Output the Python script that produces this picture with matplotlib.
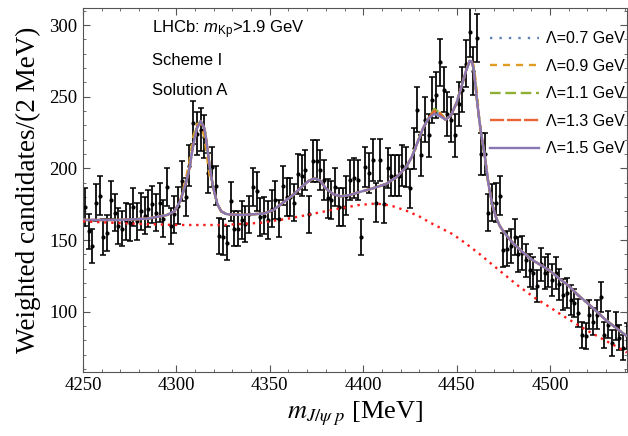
import numpy as np
import matplotlib
matplotlib.use('Agg')
import matplotlib.pyplot as plt
from matplotlib.ticker import MultipleLocator
from matplotlib.lines import Line2D

plt.rcParams['mathtext.fontset'] = 'custom'
plt.rcParams['mathtext.rm'] = 'Liberation Sans'
plt.rcParams['mathtext.it'] = 'Liberation Sans:italic'

# LHCb data, 2 MeV bins (bin centres 4251 ... 4541)
mass = np.arange(4251, 4543, 2)
counts = [173, 156, 146, 176, 181, 152, 155, 178, 169, 160, 158, 163, 162, 173, 163,
          170, 167, 172, 175, 169, 176, 165, 187, 160, 168,
          174, 191, 180, 202, 232, 224, 227, 222, 197, 201, 188, 153, 152, 148, 177,
          158, 158, 164, 161, 168, 187, 184, 166, 167, 164,
          172, 178, 165, 188, 180, 180, 176, 196, 195, 199, 168, 205, 205, 199, 192,
          179, 178, 187, 173, 173, 181, 192, 193, 192, 152,
          201, 197, 206, 176, 206, 175, 200, 195, 195, 195, 202, 201, 186, 214, 241,
          209, 234, 223, 248, 251, 274, 255, 238, 234, 223,
          245, 255, 273, 295, 268, 291, 210, 210, 169, 176, 176, 181, 143, 144, 146,
          152, 140, 141, 136, 129, 127, 118, 133, 127, 129,
          122, 127, 119, 112, 113, 108, 106, 99, 84, 83, 98, 93, 98, 110, 84,
          91, 78, 90, 82, 75, 83]
errors = [13, 12.5, 12, 13, 13.5, 12.5, 12.5, 13.5, 13, 12.5, 12.5, 13, 13, 13, 13,
          13, 13, 13, 13, 13, 13.5, 13, 13.5, 12.5, 13,
          13, 14, 13.5, 14, 15, 15, 15, 15, 14, 14, 13.5, 12.5, 12.5, 12, 13.5,
          12.5, 12.5, 13, 12.5, 13, 13.5, 13.5, 13, 13, 13,
          13, 13.5, 13, 13.5, 13.5, 13.5, 13, 14, 14, 14, 13, 14.5, 14.5, 14, 14,
          13.5, 13.5, 13.5, 13, 13, 13.5, 14, 14, 14, 12.5,
          14, 14, 14.5, 13.5, 14.5, 13, 14, 14, 14, 14, 14, 14, 13.5, 14.5, 15.5,
          14.5, 15.5, 15, 16, 16, 16.5, 16, 15.5, 15.5, 15,
          15.5, 16, 16.5, 17, 16.5, 17, 14.5, 14.5, 13, 13, 13.5, 13.5, 12, 12, 12,
          12.5, 12, 12, 11.5, 11.5, 11, 11, 11.5, 11, 11.5,
          11, 11, 11, 10.5, 10.5, 10.5, 10, 10, 9, 9, 10, 9.5, 10, 10.5, 9,
          9.5, 9, 9.5, 9, 8.5, 9]

# fit curve (Lambda = 1.5 GeV)
fit_m = [4250, 4270, 4285, 4295, 4299, 4302, 4305, 4307, 4309, 4311, 4313, 4315, 4316,
         4317, 4318, 4319, 4320, 4322, 4324, 4327, 4335, 4347, 4352, 4357, 4362, 4367,
         4371, 4374, 4377, 4380, 4384, 4388, 4393, 4398, 4405, 4412, 4418, 4423, 4426,
         4429, 4432, 4435, 4438, 4441, 4444, 4447, 4450, 4453, 4455, 4457, 4458, 4459,
         4460, 4461, 4462, 4463, 4464, 4465, 4466, 4467, 4469, 4471, 4473, 4475, 4480,
         4485, 4490, 4495, 4500, 4505, 4510, 4515, 4520, 4525, 4530, 4535, 4541]
fit_15 = [164, 164, 165, 167.5, 170, 177, 189, 200, 216, 228, 233, 228, 220,
          210, 200, 192, 185, 175, 170, 168, 167.5, 168.5, 171, 176, 181, 187,
          191.5, 193, 191.5, 186, 182, 180.5, 181.5, 183.5, 186, 189, 194, 201, 208,
          218, 228, 235, 238, 236.5, 234, 237, 246, 259, 268, 275, 274.5, 270,
          259, 246, 235, 225, 217, 209, 199, 189, 175, 166, 160, 156, 148,
          142, 136.5, 132.5, 128.5, 123, 118, 111.5, 106, 100, 94, 89, 83]

# where the other cutoffs differ visibly from Lambda = 1.5 GeV
diff_07 = {4438: 239, 4441: 238}
diff_09 = {4305: 192, 4307: 205, 4309: 222, 4311: 231, 4313: 231, 4315: 222, 4316: 212,
           4317: 202, 4318: 193, 4438: 240, 4441: 239, 4457: 276, 4459: 272,
           4460: 263, 4461: 251}
diff_11 = {4309: 218, 4311: 230, 4438: 241.5, 4441: 239}
diff_13 = {4438: 240, 4441: 238}

# background (red dotted)
bkg_m = [4250, 4275, 4300, 4325, 4345, 4360, 4372, 4385, 4398, 4407, 4415, 4423, 4430,
         4436, 4442, 4448, 4455, 4462, 4468, 4475, 4483, 4492, 4500, 4507, 4514, 4521,
         4528, 4535, 4541]
bkg = [163, 161.5, 160.5, 160.5, 162, 165, 168, 171.5, 174.5, 175.5, 174, 170.5, 166.5,
       162, 158, 154, 147.5, 140.5, 134, 126.5, 118, 109.5, 103, 97, 91.5, 86,
       81, 76, 71.5]

labels = ['Λ=0.7 GeV', 'Λ=0.9 GeV', 'Λ=1.1 GeV', 'Λ=1.3 GeV', 'Λ=1.5 GeV']
colors = ['#5E81B5', '#E19C24', '#8FB032', '#EB6235', '#8778B3']
styles = [(0, (1, 3)), (0, (3, 2.5)), (0, (4.5, 2)), (0, (6, 1.2)), '-']


def with_diff(diff):
    return [diff.get(m, v) for m, v in zip(fit_m, fit_15)]


curves = [with_diff(diff_07), with_diff(diff_09), with_diff(diff_11),
          with_diff(diff_13), fit_15]

fig, ax = plt.subplots(figsize=(6.28, 4.36), dpi=100)
fig.subplots_adjust(left=0.132, right=0.998, top=0.982, bottom=0.147)

ax.errorbar(mass, counts, yerr=errors, fmt='o', ms=2.0, color='black',
            ecolor='black', elinewidth=1.25, capsize=2.4, capthick=1.1, zorder=2)

handles = []
for y, lab, c, ls in zip(curves, labels, colors, styles):
    ax.plot(fit_m, y, color=c, ls=ls, lw=1.7, zorder=3)
    handles.append(Line2D([], [], color=c, ls=ls, lw=1.7))

ax.plot(bkg_m, bkg, color='#FF1A1A', ls=(0, (1, 2)), lw=1.7, zorder=3)

ax.set_xlim(4250, 4541)
ax.set_ylim(58, 312)
ax.xaxis.set_major_locator(MultipleLocator(50))
ax.xaxis.set_minor_locator(MultipleLocator(10))
ax.yaxis.set_major_locator(MultipleLocator(50))
ax.yaxis.set_minor_locator(MultipleLocator(10))
ax.tick_params(which='both', direction='in', top=True, right=True, color='#555555')
ax.tick_params(which='major', length=5, labelsize=13.5, pad=4)
ax.tick_params(which='minor', length=2.5)
for lab in ax.get_xticklabels() + ax.get_yticklabels():
    lab.set_fontfamily('Liberation Serif')
for sp in ax.spines.values():
    sp.set_color('#555555')

ax.set_xlabel(r'$m_{J/\psi\ p}$ [MeV]', fontsize=19, fontfamily='Liberation Serif',
              math_fontfamily='stix', labelpad=4)
ax.set_ylabel('Weighted candidates/(2 MeV)', fontsize=19.5,
              fontfamily='Liberation Serif', labelpad=6)

ax.text(4287, 297, r'LHCb: $m_{\mathrm{Kp}}$>1.9 GeV', fontsize=12,
        fontfamily='Liberation Sans', va='center')
ax.text(4287, 275.5, 'Scheme I', fontsize=12, fontfamily='Liberation Sans', va='center')
ax.text(4287, 254.5, 'Solution A', fontsize=12, fontfamily='Liberation Sans', va='center')

leg = ax.legend(handles, labels, loc='upper right', bbox_to_anchor=(1.0, 0.94),
                frameon=False, handlelength=3.1, handletextpad=0.45,
                labelspacing=0.78, borderpad=0.1, borderaxespad=0.0,
                prop={'family': 'Liberation Sans', 'size': 11.5})

fig.savefig('out.png', dpi=100)
